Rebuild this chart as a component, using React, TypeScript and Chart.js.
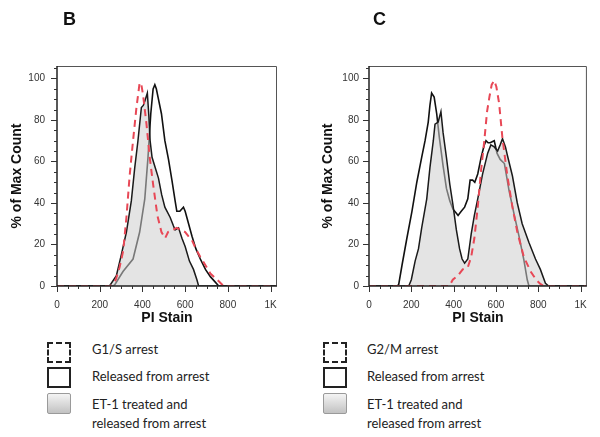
import React, { useEffect, useRef } from "react";
import { Chart, registerables } from "chart.js";

Chart.register(...registerables);

type Pt = [number, number];

// ---- axis ticks ----
const xTickValues = [0, 200, 400, 600, 800, 1000];
const xTickLabels = ["0", "200", "400", "600", "800", "1K"];
const yTickValues = [0, 20, 40, 60, 80, 100];
const xMinorStep = 50;
const yMinorStep = 5;

// ---- Panel B (PI stain, % of max count) ----
const bG1SArrest: Pt[] = [
  [0, 0], [250, 0], [275, 3], [293, 9], [310, 17], [325, 33], [340, 53], [356, 70], [372, 86],
  [387, 98], [395, 97], [403, 92], [419, 78], [434, 62], [450, 49], [470, 34], [489, 26],
  [506, 23], [520, 26], [540, 27], [561, 28], [580, 27], [600, 26], [615, 24], [632, 22],
  [650, 18], [671, 14], [695, 10], [718, 6], [750, 3], [780, 0], [1024, 0],
];
const bReleased: Pt[] = [
  [0, 0], [262, 0], [270, 0.5], [309, 7], [356, 13], [387, 26], [411, 42], [426, 62], [439, 83],
  [450, 95], [458, 97], [465, 95], [473, 91], [489, 83], [505, 70], [522, 61], [538, 51],
  [553, 41], [561, 36], [575, 36], [592, 38], [600, 36], [608, 33], [632, 24], [650, 18],
  [671, 13], [695, 8], [718, 4.5], [740, 2], [757, 0], [1024, 0],
];
const bET1Released: Pt[] = [
  [0, 0], [246, 0], [278, 5], [301, 15], [325, 26], [348, 41], [364, 57], [379, 70], [395, 86],
  [404, 87], [411, 89], [423, 93], [430, 82], [436, 70], [445, 62], [460, 57], [475, 52],
  [490, 44], [505, 38], [530, 33], [545, 29], [553, 27], [569, 28], [585, 23], [600, 19],
  [620, 12], [639, 8], [655, 3], [663, 0], [1024, 0],
];

// ---- Panel C ----
const cG2MArrest: Pt[] = [
  [0, 0], [240, 0], [380, 0], [396, 3], [420, 5], [443, 8], [467, 9], [483, 14], [498, 23],
  [514, 38], [530, 56], [545, 70], [558, 84], [569, 91], [580, 97], [592, 99], [602, 96],
  [615, 88], [631, 71], [654, 53], [678, 38], [701, 26], [732, 14], [764, 7], [790, 3],
  [810, 1], [826, 0], [1024, 0],
];
const cReleased: Pt[] = [
  [0, 0], [130, 0], [140, 0.5], [156, 10], [179, 23], [203, 36], [226, 50], [249, 62], [265, 70],
  [280, 79], [288, 87], [296, 93], [308, 91], [320, 83], [332, 72], [350, 58], [366, 47],
  [382, 41], [397, 37], [413, 35], [421, 34], [436, 36], [452, 38], [467, 42], [478, 51],
  [490, 51], [500, 50], [514, 54], [530, 62], [545, 68], [553, 70], [563, 69], [573, 69],
  [592, 70], [605, 64], [620, 61], [640, 59], [662, 46], [685, 35], [709, 24], [732, 12.6],
  [748, 3], [756, 0], [1024, 0],
];
const cET1Released: Pt[] = [
  [0, 0], [188, 0], [200, 3], [218, 12], [234, 18], [249, 28], [273, 42], [288, 57], [304, 70],
  [312, 78], [327, 79], [340, 84], [350, 74], [366, 62], [382, 49], [397, 39], [413, 27],
  [428, 18], [440, 13], [452, 11], [467, 13], [483, 25], [498, 34], [514, 42], [537, 54],
  [561, 64], [576, 68], [592, 67], [608, 65], [620, 68], [631, 71], [645, 67], [654, 63],
  [678, 53], [701, 40], [724, 30], [756, 21], [787, 13], [810, 8], [834, 1.3], [849, 0],
  [1024, 0],
];

const legendB = ["G1/S arrest", "Released from arrest", "ET-1 treated and", "released from arrest"];
const legendC = ["G2/M arrest", "Released from arrest", "ET-1 treated and", "released from arrest"];

const FONT = "'Liberation Sans', Arial, sans-serif";

const framePlugin = {
  id: "frameTicks",
  afterDatasetsDraw(chart: any) {
    const { ctx, chartArea: a, scales } = chart;
    const xs = scales.x;
    const ys = scales.y;
    ctx.save();
    ctx.strokeStyle = "#555";
    ctx.lineWidth = 1;
    ctx.beginPath();
    ctx.moveTo(a.left, a.top + 0.5);
    ctx.lineTo(a.right - 0.5, a.top + 0.5);
    ctx.lineTo(a.right - 0.5, a.bottom);
    ctx.stroke();
    ctx.strokeStyle = "#222";
    ctx.lineWidth = 1.5;
    ctx.beginPath();
    ctx.moveTo(a.left, a.top);
    ctx.lineTo(a.left, a.bottom);
    ctx.lineTo(a.right, a.bottom);
    ctx.stroke();
    ctx.lineWidth = 1;
    ctx.strokeStyle = "#333";
    ctx.beginPath();
    for (let v = 0; v <= 1000; v += xMinorStep) {
      const px = Math.round(xs.getPixelForValue(v)) + 0.5;
      const len = v % 200 === 0 ? 6 : 3;
      ctx.moveTo(px, a.bottom);
      ctx.lineTo(px, a.bottom + len);
    }
    for (let v = 0; v <= 105; v += yMinorStep) {
      const py = Math.round(ys.getPixelForValue(v)) + 0.5;
      const len = v % 20 === 0 ? 6 : 3;
      ctx.moveTo(a.left, py);
      ctx.lineTo(a.left - len, py);
    }
    ctx.stroke();
    ctx.restore();
  },
};

type Geom = { yAxisWidth: number; padRight: number; yLabelPad: number; yTitlePad: number };

function makeChart(canvas: HTMLCanvasElement, arrest: Pt[], released: Pt[], et1: Pt[], g: Geom) {
  const toData = (pts: Pt[]) => pts.map(([x, y]) => ({ x, y }));
  return new Chart(canvas, {
    type: "line",
    data: {
      datasets: [
        {
          label: "arrest",
          data: toData(arrest),
          borderColor: "rgb(232,72,86)",
          borderWidth: 2,
          borderDash: [7, 5],
          fill: false,
          pointRadius: 0,
          tension: 0,
          order: 0,
        },
        {
          label: "et1",
          data: toData(et1),
          borderColor: "#1a1a1a",
          borderWidth: 1.5,
          backgroundColor: "rgba(205,205,205,0.55)",
          fill: "origin",
          pointRadius: 0,
          tension: 0,
          order: 1,
        },
        {
          label: "released",
          data: toData(released),
          borderColor: "#111",
          borderWidth: 1.6,
          fill: false,
          pointRadius: 0,
          tension: 0,
          order: 2,
        },
      ],
    } as any,
    options: {
      animation: false,
      responsive: false,
      devicePixelRatio: 1,
      layout: { padding: { left: 0, right: g.padRight, top: 66, bottom: 0 } },
      plugins: { legend: { display: false }, tooltip: { enabled: false } },
      scales: {
        x: {
          type: "linear",
          min: 0,
          max: 1030,
          grid: { display: false, drawTicks: false },
          border: { display: false },
          afterBuildTicks: (s: any) => {
            s.ticks = xTickValues.map((v) => ({ value: v }));
          },
          afterFit: (s: any) => {
            s.height = 46;
          },
          ticks: {
            autoSkip: false,
            maxRotation: 0,
            padding: 13,
            color: "#333",
            font: { family: FONT, size: 10 },
            callback: (v: any) => {
              const i = xTickValues.indexOf(Number(v));
              return i >= 0 ? xTickLabels[i] : "";
            },
          },
          title: {
            display: true,
            text: "PI Stain",
            color: "#111",
            font: { family: FONT, size: 14, weight: "bold" },
            padding: { top: 0, bottom: 5 },
          },
        },
        y: {
          type: "linear",
          min: 0,
          max: 106,
          grid: { display: false, drawTicks: false },
          border: { display: false },
          afterBuildTicks: (s: any) => {
            s.ticks = yTickValues.map((v) => ({ value: v }));
          },
          afterFit: (s: any) => {
            s.width = g.yAxisWidth;
          },
          ticks: {
            autoSkip: false,
            padding: g.yLabelPad,
            color: "#333",
            font: { family: FONT, size: 10 },
            callback: (v: any) => String(v),
          },
          title: {
            display: true,
            text: "% of Max Count",
            color: "#111",
            font: { family: FONT, size: 14, weight: "bold" },
            padding: { top: g.yTitlePad, bottom: 0 },
          },
        },
      },
    } as any,
    plugins: [framePlugin],
  });
}

function Panel(props: { left: number; arrest: Pt[]; released: Pt[]; et1: Pt[]; g: Geom }) {
  const ref = useRef<HTMLCanvasElement | null>(null);
  useEffect(() => {
    if (!ref.current) return;
    const c = makeChart(ref.current, props.arrest, props.released, props.et1, props.g);
    return () => c.destroy();
  }, []);
  return (
    <canvas
      ref={ref}
      width={300}
      height={332}
      style={{ position: "absolute", left: props.left, top: 0, width: 300, height: 332 }}
    />
  );
}

const textStyle: React.CSSProperties = {
  position: "absolute",
  fontFamily: "Lato, 'Open Sans', sans-serif",
  fontSize: 13,
  lineHeight: "18px",
  color: "#222",
  whiteSpace: "nowrap",
};

function Legend(props: { boxLeft: number; textLeft: number; labels: string[] }) {
  const { boxLeft, textLeft, labels } = props;
  const centers = [349, 376, 404, 423];
  return (
    <>
      <div
        style={{
          position: "absolute", left: boxLeft, top: 342, width: 24, height: 21,
          boxSizing: "border-box", border: "2px dashed #222", background: "#fff",
        }}
      />
      <div
        style={{
          position: "absolute", left: boxLeft, top: 367, width: 24, height: 21,
          boxSizing: "border-box", border: "2px solid #222", background: "#fff",
        }}
      />
      <div
        style={{
          position: "absolute", left: boxLeft, top: 393, width: 24, height: 21,
          boxSizing: "border-box", border: "1px solid #9a9a9a", borderRadius: 2,
          background: "linear-gradient(#f4f4f4, #c2c2c2)",
        }}
      />
      {labels.map((t, i) => (
        <div key={i} style={{ ...textStyle, left: textLeft, top: centers[i] - 9 }}>
          {t}
        </div>
      ))}
    </>
  );
}

export default function App() {
  const panelTitle: React.CSSProperties = {
    position: "absolute", top: 10, fontFamily: FONT, fontWeight: "bold",
    fontSize: 18, lineHeight: "18px", color: "#111",
  };
  return (
    <div
      style={{
        position: "absolute", left: 0, top: 0, width: 600, height: 437,
        background: "#fff", overflow: "hidden",
      }}
    >
      <Panel
        left={0}
        arrest={bG1SArrest}
        released={bReleased}
        et1={bET1Released}
        g={{ yAxisWidth: 57, padRight: 23, yLabelPad: 12, yTitlePad: 9 }}
      />
      <Panel
        left={300}
        arrest={cG2MArrest}
        released={cReleased}
        et1={cET1Released}
        g={{ yAxisWidth: 69, padRight: 11, yLabelPad: 10, yTitlePad: 20 }}
      />
      <div style={{ ...panelTitle, left: 63 }}>B</div>
      <div style={{ ...panelTitle, left: 373 }}>C</div>
      <Legend boxLeft={47} textLeft={92} labels={legendB} />
      <Legend boxLeft={323} textLeft={367} labels={legendC} />
    </div>
  );
}
